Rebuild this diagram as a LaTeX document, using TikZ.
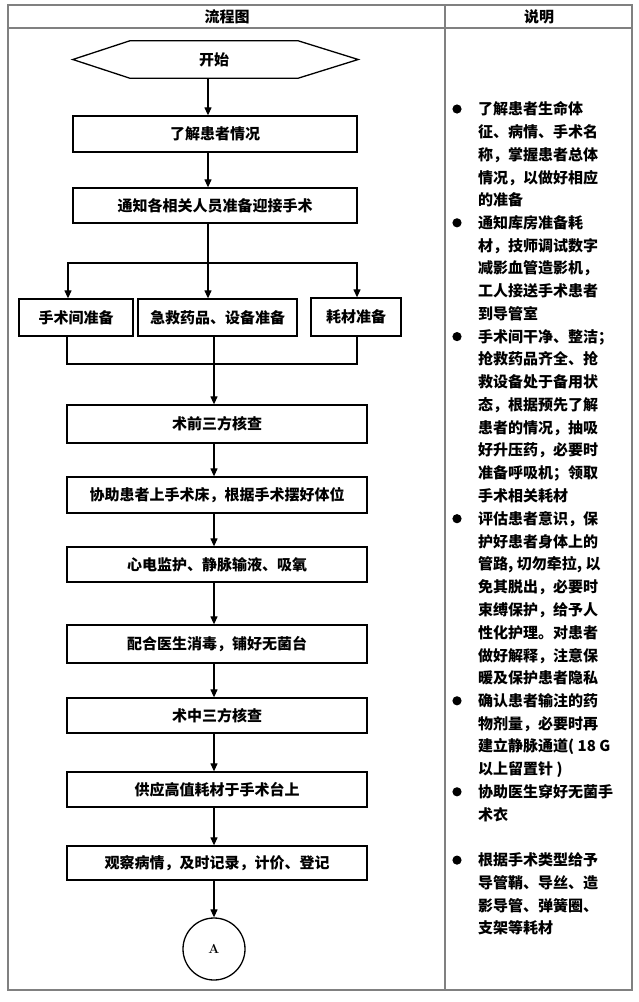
\documentclass[tikz,border=0pt]{standalone}
\usepackage{fontspec}
\newfontfamily\cjk{Noto Sans CJK SC}
\usetikzlibrary{arrows.meta,calc}
\tikzset{
  box/.style={draw, line width=1.3pt, inner sep=0pt, minimum height=36pt,
    font=\cjk\bfseries\fontsize{15}{18}\selectfont},
  wbox/.style={box, minimum width=300pt},
  arr/.style={-{Triangle[length=8pt,width=7pt]}, line width=1.2pt},
  ln/.style={line width=1.2pt},
  tbl/.style={draw=gray, line width=1.1pt},
  head/.style={font=\cjk\bfseries\fontsize{15}{18}\selectfont, inner sep=0pt},
  desc/.style={anchor=north west, inner sep=0pt, align=left,
    font=\cjk\bfseries\fontsize{15}{22.76}\selectfont},
  dot/.style={fill=black}
}
\begin{document}
\begin{tikzpicture}[x=1pt,y=-1pt]
\useasboundingbox (0,0) rectangle (638,1002);
% table
\draw[tbl] (8,5) rectangle (632,990);
\draw[tbl] (8,28) -- (632,28);
\draw[tbl] (445,5) -- (445,990);
\node[head] (h1) at (227,17) {流程图};
\node[head] (h2) at (539,17) {说明};

% start hexagon
\node[inner sep=0pt, minimum width=168pt, minimum height=37pt,
  font=\cjk\bfseries\fontsize{15}{18}\selectfont] (start) at (214,59.5) {开始};
\draw[line width=1.3pt] (start.north west) -- (start.north east)
  -- ($(start.east)+(60,0)$) -- (start.south east) -- (start.south west)
  -- ($(start.west)+(-57,0)$) -- cycle;

\node[box, minimum width=284pt] (b1) at (215,134) {了解患者情况};
\node[box, minimum width=284pt, minimum height=35pt] (b2) at (215,205.5) {通知各相关人员准备迎接手术};

\node[box, minimum width=114pt, minimum height=37pt] (s1) at (76,317.5) {手术间准备};
\node[box, minimum width=159pt, minimum height=37pt] (s2) at (217.5,317.5) {急救药品、设备准备};
\node[box, minimum width=90pt, minimum height=38pt] (s3) at (356,317) {耗材准备};

\node[wbox, minimum height=38pt] (c1) at (217,424) {术前三方核查};
\node[wbox] (c2) at (217,495) {协助患者上手术床，根据手术摆好体位};
\node[wbox, minimum height=35pt] (c3) at (217,564.5) {心电监护、静脉输液、吸氧};
\node[wbox, minimum height=38pt] (c4) at (217,644) {配合医生消毒，铺好无菌台};
\node[wbox, minimum height=35pt] (c5) at (217,715.5) {术中三方核查};
\node[wbox, minimum height=35pt] (c6) at (217,789.5) {供应高值耗材于手术台上};
\node[wbox, minimum height=34pt] (c7) at (217,863) {观察病情，及时记录，计价、登记};
\node[draw, circle, line width=1.3pt, minimum size=62pt, inner sep=0pt,
  font=\bfseries\fontsize{13}{15}\selectfont] (A) at (214,949) {A};

% connectors
\draw[arr] ([xshift=-6pt]start.south) -- ([xshift=-7pt]b1.north);
\draw[arr] ([xshift=-7pt]b1.south) -- ([xshift=-7pt]b2.north);
\coordinate (sp) at (208,263);
\draw[ln] ([xshift=-7pt]b2.south) -- (sp);
\draw[arr] (sp) -| ([xshift=-8pt]s1.north);
\draw[arr] (sp) -| ([xshift=1pt]s3.north);
\draw[arr] (sp) -- ([xshift=-9.5pt]s2.north);
\coordinate (mg) at (214,364);
\draw[ln] ([xshift=-9pt]s1.south) |- (mg);
\draw[ln] ([xshift=1pt]s3.south) |- (mg);
\draw[arr] ([xshift=-3.5pt]s2.south) -- ([xshift=-3pt]c1.north);
\draw[arr] ([xshift=-3pt]c1.south) -- ([xshift=-3pt]c2.north);
\draw[arr] ([xshift=-3pt]c2.south) -- ([xshift=-3pt]c3.north);
\draw[arr] ([xshift=-3pt]c3.south) -- ([xshift=-3pt]c4.north);
\draw[arr] ([xshift=-3pt]c4.south) -- ([xshift=-3pt]c5.north);
\draw[arr] ([xshift=-3pt]c5.south) -- ([xshift=-3pt]c6.north);
\draw[arr] ([xshift=-3pt]c6.south) -- ([xshift=-3pt]c7.north);
\draw[arr] ([xshift=-3pt]c7.south) -- (A.north);

% description column
\node[desc] (d1) at (478,101.5) {了解患者生命体\\征、病情、手术名\\称，掌握患者总体\\情况，以做好相应\\的准备};
\node[desc] (d2) at (478,215.3) {通知库房准备耗\\材，技师调试数字\\减影血管造影机，\\工人接送手术患者\\到导管室};
\node[desc] (d3) at (478,329.1) {手术间干净、整洁；\\抢救药品齐全、抢\\救设备处于备用状\\态，根据预先了解\\患者的情况，抽吸\\好升压药，必要时\\准备呼吸机；领取\\手术相关耗材};
\node[desc] (d4) at (478,511.2) {评估患者意识，保\\护好患者身体上的\\管路, 切勿牵拉, 以\\免其脱出，必要时\\束缚保护，给予人\\性化护理。对患者\\做好解释，注意保\\暖及保护患者隐私};
\node[desc] (d5) at (478,693.3) {确认患者输注的药\\物剂量，必要时再\\建立静脉通道( 18 G\\以上留置针 )};
\node[desc] (d6) at (478,784.3) {协助医生穿好无菌手\\术衣};
\node[desc] (d7) at (478,852.6) {根据手术类型给予\\导管鞘、导丝、造\\影导管、弹簧圈、\\支架等耗材};
\foreach \n/\y in {d1/109,d2/222.8,d3/336.6,d4/518.7,d5/700.8,d6/791.8,d7/860.1}
  \fill[dot] (457,\y) circle (4.6pt);
\end{tikzpicture}
\end{document}
